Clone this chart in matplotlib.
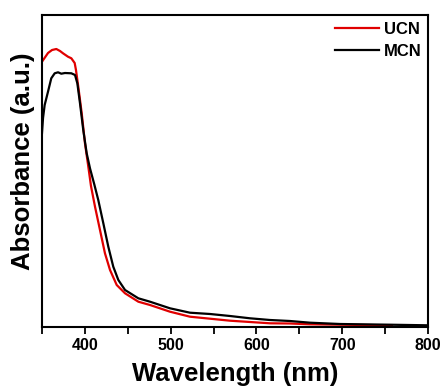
import numpy as np
import matplotlib
matplotlib.use('Agg')
import matplotlib.pyplot as plt
from matplotlib.ticker import FixedFormatter, FixedLocator

# values (arbitrary absorbance units)
ucn_wl = [350, 357.0, 361.7, 366.7, 371.0, 374.5, 380.3, 384.2, 388.1, 389.6,
          392.3, 396.3, 400.1, 404.0, 407.1, 411.8, 417.6, 423.4, 429.3, 437.1,
          446.8, 462.3, 475.9, 499.2, 522.5, 569.2, 592.5, 615.8, 639.1, 662.4,
          697.4, 758]
ucn_abs = [2.648, 2.735, 2.765, 2.775, 2.755, 2.732, 2.698, 2.682, 2.635, 2.565,
           2.398, 2.132, 1.832, 1.598, 1.405, 1.198, 0.965, 0.732, 0.565, 0.415,
           0.332, 0.248, 0.215, 0.148, 0.098, 0.058, 0.045, 0.032, 0.030, 0.022,
           0.018, 0.012]

mcn_wl = [350, 351.2, 353.1, 357.0, 360.8, 364.8, 368.7, 372.5, 376.8, 384.2,
          388.5, 391.2, 394.3, 398.1, 402.1, 406.0, 411.0, 415.6, 421.5, 427.3,
          433.1, 439.0, 446.8, 462.3, 475.9, 499.2, 522.5, 545.9, 569.2, 592.5,
          615.8, 639.1, 662.4, 697.4, 755.7, 800]
mcn_abs = [1.935, 2.085, 2.215, 2.348, 2.482, 2.532, 2.542, 2.528, 2.535, 2.532,
           2.515, 2.432, 2.232, 1.965, 1.732, 1.580, 1.420, 1.265, 1.032, 0.798,
           0.598, 0.465, 0.365, 0.282, 0.248, 0.182, 0.138, 0.125, 0.105, 0.082,
           0.065, 0.055, 0.038, 0.025, 0.018, 0.012]

tick_vals = [350, 400, 450, 500, 550, 600, 650, 700, 750, 800]
tick_labels = ['', '400', '', '500', '', '600', '', '700', '', '800']

plt.rcParams['font.family'] = ['Liberation Sans', 'DejaVu Sans']
plt.rcParams['font.weight'] = 'bold'

fig = plt.figure(figsize=(4.45, 3.9), dpi=100)
ax = fig.add_axes([42/445, 1 - 326.5/390, 386/445, 311.5/390])

ax.plot(ucn_wl, ucn_abs, color='#e00000', lw=1.6, label='UCN')
ax.plot(mcn_wl, mcn_abs, color='black', lw=1.6, label='MCN')

ax.set_xlim(350, 800)
ax.set_ylim(0, 3.115)
ax.xaxis.set_major_locator(FixedLocator(tick_vals))
ax.xaxis.set_major_formatter(FixedFormatter(tick_labels))
ax.tick_params(axis='x', direction='out', length=5, width=1.3, labelsize=11.5, pad=3)
ax.set_yticks([])
for s in ax.spines.values():
    s.set_linewidth(1.5)

ax.set_xlabel('Wavelength (nm)', fontsize=18.5, fontweight='bold', labelpad=7)
ax.set_ylabel('Absorbance (a.u.)', fontsize=18.5, fontweight='bold')
ax.yaxis.set_label_coords(-0.018, 0.53)

leg = ax.legend(loc='upper right', frameon=False, fontsize=12, handlelength=2.6,
                handletextpad=0.3, labelspacing=0.42, borderaxespad=0.0,
                bbox_to_anchor=(1.0, 1.0))
for t in leg.get_texts():
    t.set_fontweight('bold')

fig.savefig('out.png', dpi=100)
